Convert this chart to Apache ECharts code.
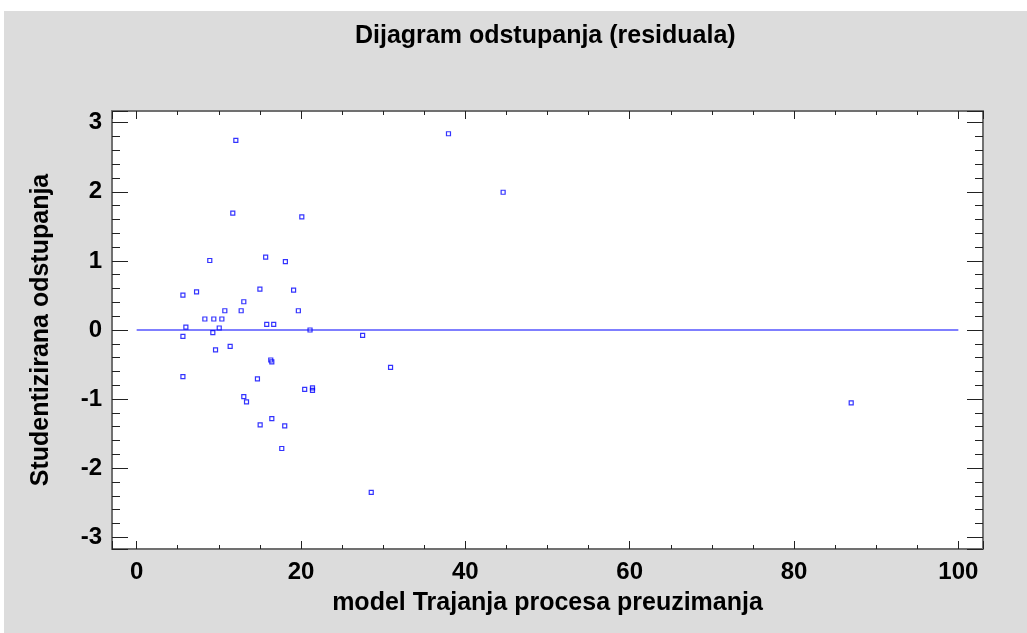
<!DOCTYPE html>
<html>
<head>
<meta charset="utf-8">
<title>Dijagram odstupanja (residuala)</title>
<script src="https://cdn.jsdelivr.net/npm/echarts@6/dist/echarts.min.js"></script>
<style>
  html, body { margin: 0; padding: 0; background: #ffffff; }
  #chart { position: absolute; left: 4px; top: 11px; width: 1023px; height: 622px; }
</style>
</head>
<body>
<div id="chart"></div>
<script>
// Fitted values of the model (x) and studentized residuals (y)
const fittedValues = [
  12.07, 11.7, 20.1, 8.9, 15.7, 18.1, 5.63, 7.29, 15.0, 19.1,
  13.04, 10.73, 12.72, 19.68, 8.30, 9.39, 10.37, 5.99, 10.05, 15.83,
  16.68, 21.1, 9.27, 5.63, 9.6, 11.38, 16.32, 16.45, 5.63, 14.7,
  20.45, 21.4, 21.4, 13.04, 13.37, 16.45, 15.03, 18.02, 17.66, 37.95,
  44.6, 27.5, 30.9, 28.55, 86.96
];
const studentizedResiduals = [
  2.746, 1.691, 1.637, 1.006, 1.055, 0.991, 0.506, 0.553, 0.592, 0.578,
  0.409, 0.279, 0.279, 0.279, 0.159, 0.159, 0.159, 0.043, 0.029, 0.081,
  0.081, 0.0, -0.039, -0.092, -0.289, -0.237, -0.434, -0.462, -0.675, -0.708,
  -0.858, -0.838, -0.873, -0.964, -1.040, -1.282, -1.373, -1.387, -1.715, 2.841,
  1.994, -0.078, -0.540, -2.351, -1.055
];
// Reference line at zero residual
const zeroLineX = [0, 100];
const zeroLineY = [0, 0];

const xRange = [-3, 103];
const yRange = [-3.17, 3.17];

const font = '"Liberation Sans", Arial, sans-serif';
const frameColor = '#707070';
const tickColor = '#222222';

const points = fittedValues.map((x, i) => [x, studentizedResiduals[i]]);
const zeroLine = zeroLineX.map((x, i) => [x, zeroLineY[i]]);

function xAxisDef(position, showLabels) {
  return {
    type: 'value',
    position: position,
    min: xRange[0],
    max: xRange[1],
    splitNumber: 5,
    axisLine: { show: true, onZero: false, lineStyle: { color: frameColor, width: 2 } },
    axisTick: { show: true, inside: true, length: 8, lineStyle: { color: tickColor, width: 1 } },
    minorTick: { show: true, splitNumber: 4, length: 4, lineStyle: { color: tickColor, width: 1 } },
    splitLine: { show: false },
    axisLabel: {
      show: showLabels,
      showMinLabel: false,
      showMaxLabel: false,
      margin: 11,
      color: '#000',
      fontFamily: font,
      fontWeight: 'bold',
      fontSize: 24
    }
  };
}

function yAxisDef(position, showLabels) {
  return {
    type: 'value',
    position: position,
    min: yRange[0],
    max: yRange[1],
    splitNumber: 6,
    axisLine: { show: true, onZero: false, lineStyle: { color: frameColor, width: 2 } },
    axisTick: { show: true, inside: true, length: 16, lineStyle: { color: tickColor, width: 1 } },
    minorTick: { show: true, splitNumber: 5, length: 8, lineStyle: { color: tickColor, width: 1 } },
    splitLine: { show: false },
    axisLabel: {
      show: showLabels,
      showMinLabel: false,
      showMaxLabel: false,
      margin: 10,
      color: '#000',
      fontFamily: font,
      fontWeight: 'bold',
      fontSize: 24
    }
  };
}

const bottomX = xAxisDef('bottom', true);
bottomX.name = 'model Trajanja procesa preuzimanja';
bottomX.nameLocation = 'middle';
bottomX.nameGap = 42;
bottomX.nameTextStyle = { color: '#000', fontFamily: font, fontWeight: 'bold', fontSize: 25 };

const leftY = yAxisDef('left', true);
leftY.name = 'Studentizirana odstupanja';
leftY.nameLocation = 'middle';
leftY.nameGap = 58;
leftY.nameTextStyle = { color: '#000', fontFamily: font, fontWeight: 'bold', fontSize: 25 };

const chart = echarts.init(document.getElementById('chart'), null, { renderer: 'canvas' });
chart.setOption({
  animation: false,
  backgroundColor: '#dcdcdc',
  title: {
    text: 'Dijagram odstupanja (residuala)',
    left: 346,
    top: 8,
    textStyle: { color: '#000', fontFamily: font, fontWeight: 'bold', fontSize: 25 }
  },
  grid: {
    left: 108,
    right: 44,
    top: 100,
    bottom: 84,
    show: true,
    backgroundColor: '#ffffff',
    borderWidth: 0
  },
  xAxis: [bottomX, xAxisDef('top', false)],
  yAxis: [leftY, yAxisDef('right', false)],
  series: [
    {
      type: 'line',
      xAxisIndex: 0,
      yAxisIndex: 0,
      data: zeroLine,
      symbol: 'none',
      lineStyle: { color: '#0000ff', width: 1.2 },
      z: 1
    },
    {
      type: 'scatter',
      xAxisIndex: 0,
      yAxisIndex: 0,
      data: points,
      symbol: 'rect',
      symbolSize: 4,
      itemStyle: { color: 'rgba(255,255,255,0)', borderColor: '#0000ff', borderWidth: 1.2 },
      z: 2
    }
  ]
});
</script>
</body>
</html>
